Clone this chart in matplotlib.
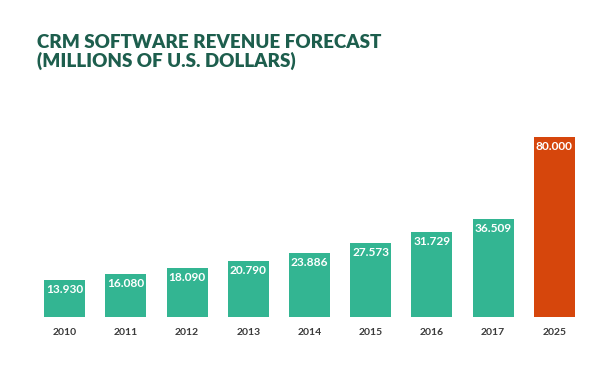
import numpy as np
import matplotlib.pyplot as plt

years = ['2010', '2011', '2012', '2013', '2014', '2015', '2016', '2017', '2025']
revenue = [13930, 16080, 18090, 20790, 23886, 27573, 31729, 36509, 80000]
labels = ['13.930', '16.080', '18.090', '20.790', '23.886', '27.573', '31.729', '36.509', '80.000']

# the forecast bar is drawn shortened in the original (broken scale)
cap = 67000
heights = [min(v, cap) for v in revenue]
colors = ['#33b592'] * 8 + ['#d6460c']

plt.rcParams['font.family'] = ['Lato', 'DejaVu Sans']

fig = plt.figure(figsize=(6.02, 3.66), dpi=100)
W, H = 602, 366
ax = fig.add_axes([34 / W, 49 / H, 551 / W, 217 / H])

x = np.arange(len(years))
ax.bar(x, heights, width=0.67, color=colors)
for xi, h, lab in zip(x, heights, labels):
    ax.text(xi, h - 1500, lab, ha='center', va='top', color='white',
            fontsize=8.6, fontweight='bold')

ax.set_xlim(-0.5, len(years) - 0.5)
ax.set_ylim(0, 80730)
ax.set_yticks([])
ax.set_xticks(x)
ax.set_xticklabels(years, fontsize=7.5, fontweight='bold', color='#3a3a3a')
ax.tick_params(axis='x', length=0, pad=8)
for s in ax.spines.values():
    s.set_visible(False)

fig.text(37 / W, 1 - 52 / H, 'CRM SOFTWARE REVENUE FORECAST\n(MILLIONS OF U.S. DOLLARS)',
         ha='left', va='center', fontsize=13.5, fontweight='heavy', color='#1d5e4d',
         linespacing=1.1)

fig.savefig('out.png', dpi=100)
